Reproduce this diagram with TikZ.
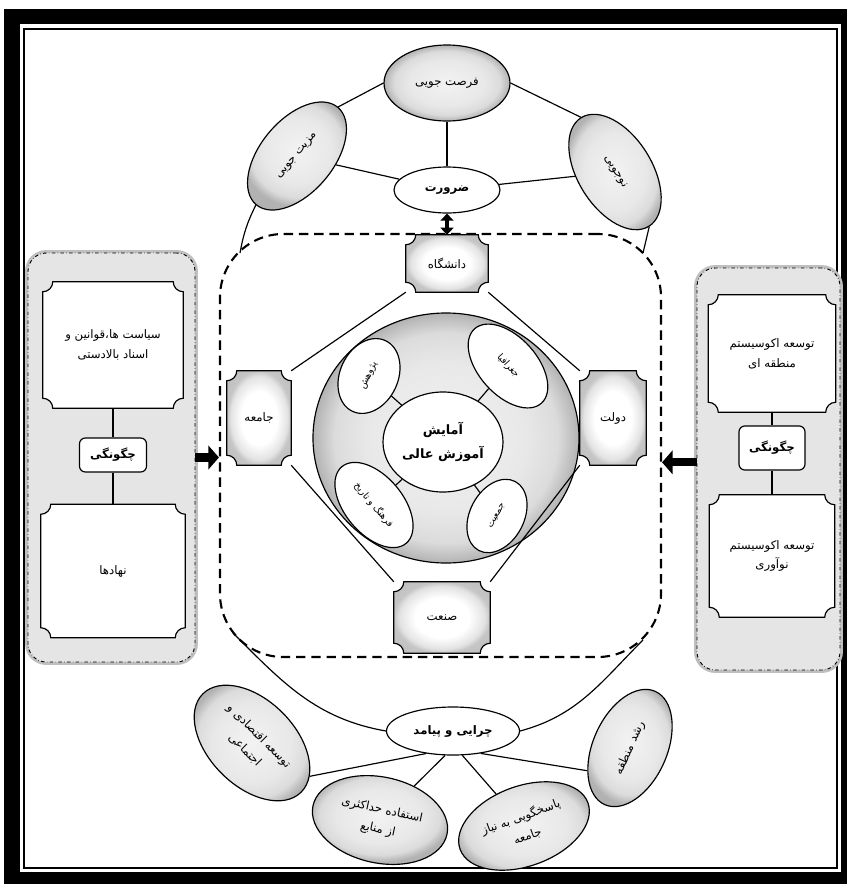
\documentclass[tikz,border=0pt]{standalone}
\usepackage{fontspec}
\usetikzlibrary{shapes.geometric,arrows.meta}
\newfontfamily\farsi[Script=Arabic]{DejaVu Sans}
\TeXXeTstate=1
\newcommand\fa[1]{{\farsi\beginR #1\endR}}
\newcommand\fab[1]{{\farsi\bfseries\beginR #1\endR}}

\pgfdeclarelayer{back}
\pgfdeclarelayer{mid}
\pgfsetlayers{back,mid,main}

\pgfdeclareradialshading{ellgray}{\pgfpointorigin}{color(0bp)=(gray!10); color(15bp)=(gray!18); color(21bp)=(gray!28); color(25bp)=(gray!60); color(50bp)=(gray!60)}
\pgfdeclareradialshading{plaquewhite}{\pgfpointorigin}{color(0bp)=(white); color(14bp)=(white); color(22bp)=(gray!22); color(25bp)=(gray!45); color(50bp)=(gray!65)}

\def\plaquer{0.3cm}
\newcommand\plaqueframe[2]{%
  \path[#2] ([xshift=\plaquer]#1.north west) -- ([xshift=-\plaquer]#1.north east)
    arc[start angle=180,end angle=270,radius=\plaquer] -- ([yshift=\plaquer]#1.south east)
    arc[start angle=90,end angle=180,radius=\plaquer] -- ([xshift=\plaquer]#1.south west)
    arc[start angle=0,end angle=90,radius=\plaquer] -- ([yshift=-\plaquer]#1.north west)
    arc[start angle=270,end angle=360,radius=\plaquer] -- cycle;}

\tikzset{
  link/.style={line width=1pt},
  ell/.style={ellipse, draw, line width=1pt, inner sep=0pt, align=center},
  grayell/.style={ell, shade, shading=ellgray},
  whiteell/.style={ell, fill=white},
  smalltext/.style={font=\fontsize{8}{12}\selectfont},
  bigtext/.style={font=\fontsize{11}{20}\selectfont},
  plaque/.style={rectangle, inner sep=0pt, align=center},
  whiteplaque/.style={draw, line width=1pt, fill=white},
  shadedplaque/.style={draw, line width=1pt, shade, shading=plaquewhite},
  howbox/.style={rectangle, draw, fill=white, rounded corners=5pt, line width=1pt},
  panel/.style={rectangle, rounded corners=0.55cm, fill=gray!20, draw, dash dot, line width=0.8pt,
    preaction={draw=gray!50, line width=5pt, solid}},
  blockarrow/.style={line width=7pt, -{Triangle[length=9pt,width=20pt]}},
  dblarrow/.style={line width=3pt, {Triangle[length=6pt,width=11pt]}-{Triangle[length=6pt,width=11pt]}},
}

\begin{document}
\begin{tikzpicture}[x=0.03cm, y=-0.03cm, font=\fontsize{10}{17}\selectfont]
\useasboundingbox (0,0) rectangle (847,884);

% frame, side panels and dashed core
\begin{pgfonlayer}{back}
  \fill (4,9) rectangle (847,884);
  \fill[white] (20,24) rectangle (841,872);
  \draw[line width=1.3pt] (24,29) rectangle (837,868);
  \node[panel, minimum width=5.01cm, minimum height=12.27cm] (lpanel) at (111.5,457.5) {};
  \node[panel, minimum width=4.29cm, minimum height=12.06cm] (rpanel) at (768.5,469) {};
  \node[rectangle, draw, line width=1.8pt, dash pattern=on 8pt off 5pt, rounded corners=1.9cm,
    minimum width=13.23cm, minimum height=12.69cm] (core) at (440.5,445.5) {};
\end{pgfonlayer}

% top
\node[grayell, minimum width=3.78cm, minimum height=2.28cm] (opp) at (447,83) {\fa{فرصت جویی}};
\node[whiteell, minimum width=3.18cm, minimum height=1.38cm] (need) at (447,190) {\fab{ضرورت}};
\node[grayell, rotate=50, minimum width=3.81cm, minimum height=2.19cm] (adv) at (297,156) {\fa{مزیت جویی}};
\node[grayell, rotate=-58, minimum width=3.84cm, minimum height=2.22cm] (nov) at (615,172) {\fa{نوجویی}};

% bottom
\node[whiteell, minimum width=3.99cm, minimum height=1.44cm] (why) at (453,731) {\fab{چرایی و پیامد}};
\node[grayell, rotate=-45, minimum width=4.17cm, minimum height=2.58cm] (econ) at (252,743) {\fa{توسعه اقتصادی و}\\\fa{اجتماعی}};
\node[grayell, rotate=-12, minimum width=4.11cm, minimum height=2.58cm] (maxres) at (380,820) {\fa{استفاده حداکثری}\\\fa{از منابع}};
\node[grayell, rotate=20, minimum width=4.08cm, minimum height=2.4cm] (resp) at (524,826) {\fa{پاسخگویی به نیاز}\\\fa{جامعه}};
\node[grayell, rotate=66, minimum width=3.72cm, minimum height=2.22cm] (growth) at (630,748) {\fa{رشد منطقه}};

% side panels
\node[plaque, minimum width=4.2cm, minimum height=3.78cm] (poli) at (113,345) {\fa{سیاست ها،قوانین و}\\\fa{اسناد بالادستی}};
\node[howbox, minimum width=2.01cm, minimum height=1.02cm] (howL) at (113,455) {\fab{چگونگی}};
\node[plaque, minimum width=4.32cm, minimum height=3.99cm] (inst) at (113,571) {\fa{نهادها}};
\node[plaque, minimum width=3.81cm, minimum height=3.51cm] (regeco) at (772,353.5) {\fa{توسعه اکوسیستم}\\\fa{منطقه ای}};
\node[howbox, minimum width=1.98cm, minimum height=1.32cm] (howR) at (772,448) {\fab{چگونگی}};
\node[plaque, minimum width=3.75cm, minimum height=3.66cm] (inneco) at (772,556) {\fa{توسعه اکوسیستم}\\\fa{نوآوری}};

% diamond
\node[plaque, minimum width=2.46cm, minimum height=1.71cm] (univ) at (447,263.5) {\fa{دانشگاه}};
\node[plaque, minimum width=1.92cm, minimum height=2.82cm] (soc) at (259,418) {\fa{جامعه}};
\node[plaque, minimum width=1.98cm, minimum height=2.82cm] (gov) at (613,418) {\fa{دولت}};
\node[plaque, minimum width=2.88cm, minimum height=2.13cm] (ind) at (442,617.5) {\fa{صنعت}};

% center
\node[ellipse, draw, line width=1pt, shade, shading=ellgray, minimum width=7.98cm, minimum height=7.5cm] (ring) at (446,438) {};
\node[whiteell, bigtext, minimum width=3.6cm, minimum height=3cm] (hedu) at (443,442) {\fab{آمایش}\\\fab{آموزش عالی}};
\node[whiteell, smalltext, rotate=65, minimum width=2.34cm, minimum height=1.74cm] (res) at (369,376) {\fa{پژوهش}};
\node[whiteell, smalltext, rotate=-48, minimum width=3cm, minimum height=1.74cm] (geo) at (508,366) {\fa{جغرافیا}};
\node[whiteell, smalltext, rotate=-50, minimum width=3cm, minimum height=1.74cm] (cult) at (374,505) {\fa{فرهنگ و تاریخ}};
\node[whiteell, smalltext, rotate=62, minimum width=2.34cm, minimum height=1.62cm] (pop) at (497,516) {\fa{جمعیت}};

\begin{pgfonlayer}{mid}
  \foreach \n in {poli,inst,regeco,inneco} {\plaqueframe{\n}{whiteplaque}}
  \foreach \n in {univ,soc,gov,ind} {\plaqueframe{\n}{shadedplaque}}
\end{pgfonlayer}

\coordinate (tl) at (240,253);
\coordinate (tr) at (643,253);
\coordinate (bl) at (233,633);
\coordinate (br) at (643,640);

\draw[link] (opp.west) -- (adv.east);
\draw[link] (opp.east) -- (nov.west);
\draw[link] (opp) -- (need);
\draw[link] (need) -- (adv);
\draw[link] (need) -- (nov);
\draw[link] (adv.west) to[bend right=8] (tl);
\draw[link] (nov.east) -- (tr);
\draw[dblarrow] (need) -- (univ);

\draw[link] (bl) to[out=-45,in=170] (why.west);
\draw[link] (br) to[out=-135,in=15] (why.east);
\draw[link] (why.220) -- (econ.15);
\draw[link] (why.252) -- (maxres);
\draw[link] (why.291) -- (resp);
\draw[link] (why.321) -- (growth.142);

\draw[link] (poli) -- (howL);
\draw[link] (howL) -- (inst);
\draw[link] (regeco) -- (howR);
\draw[link] (howR) -- (inneco);
\draw[blockarrow] (lpanel.east) -- (lpanel.east -| core.west);
\draw[blockarrow] ([yshift=0.2cm]rpanel.west) -- ([yshift=0.2cm]rpanel.west -| core.east);

\draw[link] (univ.south west) -- (soc.north east);
\draw[link] (soc.south east) -- (ind.north west);
\draw[link] (ind.north east) -- (gov.south west);
\draw[link] (gov.north west) -- (univ.south east);

\draw[link] (hedu) -- (res);
\draw[link] (hedu) -- (geo);
\draw[link] (hedu) -- (cult);
\draw[link] (hedu) -- (pop);
\end{tikzpicture}
\end{document}
